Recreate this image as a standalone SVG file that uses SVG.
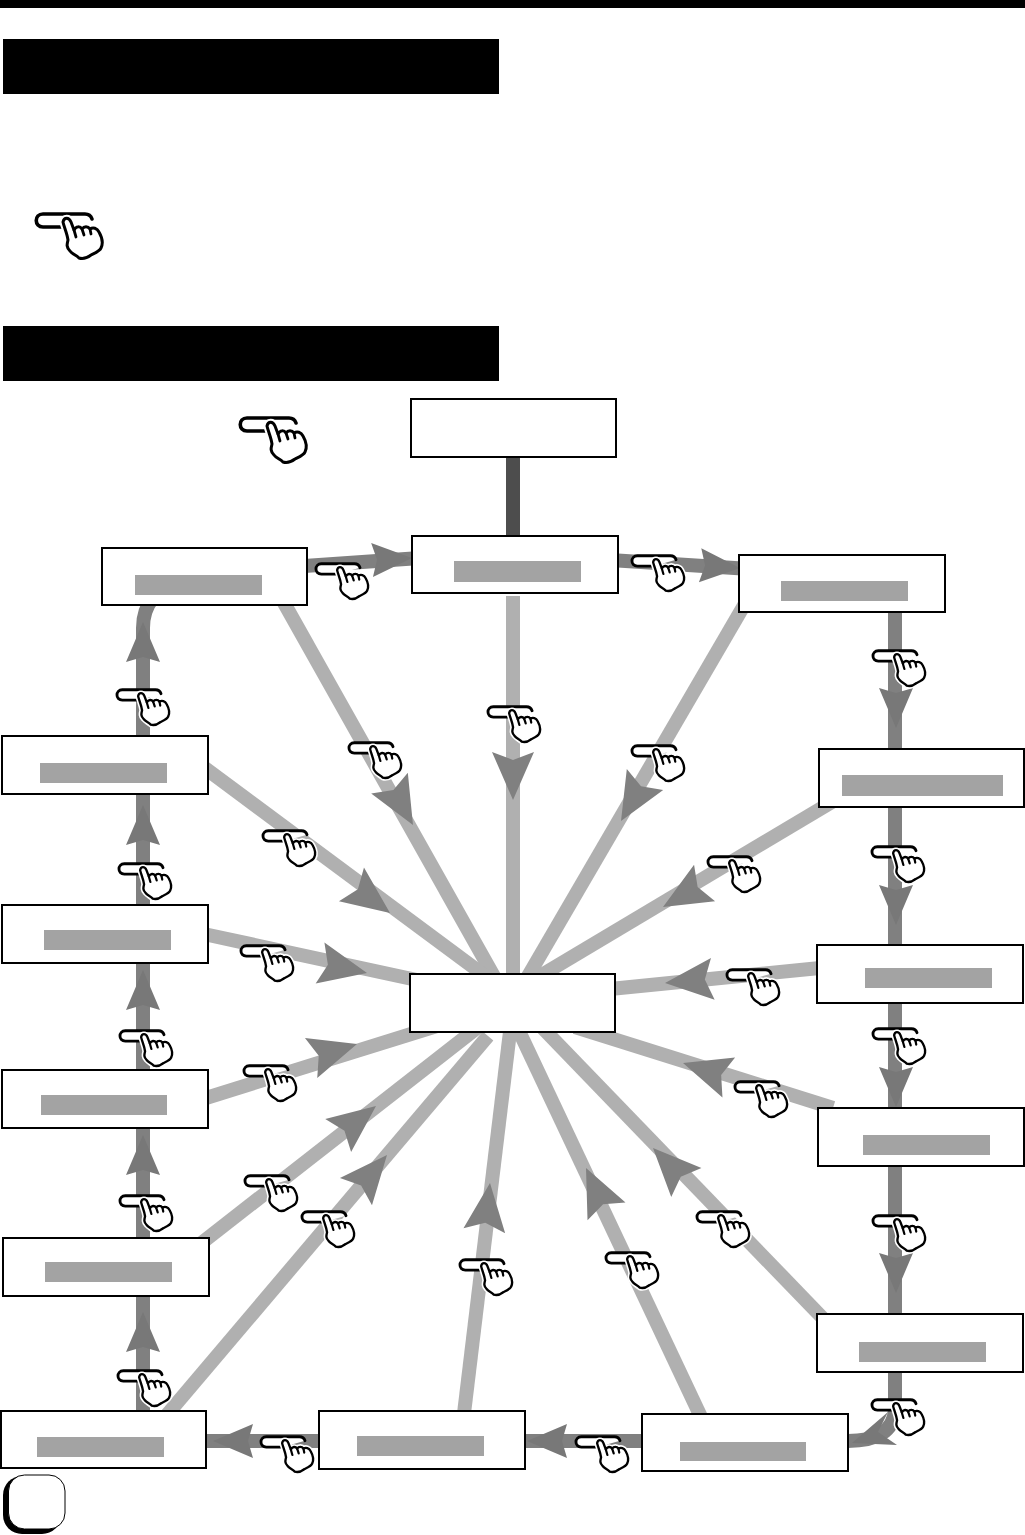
<svg xmlns="http://www.w3.org/2000/svg" width="1025" height="1535" viewBox="0 0 1025 1535">
<style>
.node{fill:#fff;stroke:#000;stroke-width:2}
.bar{fill:#a3a3a3;stroke:none}
.l{fill:none;stroke:#b0b0b0;stroke-width:14}
.d{fill:none;stroke:#808080;stroke-width:14}
.hb{fill:#808080;stroke:none}
.h{fill:#787878;stroke:none}
.pill{fill:#fff;stroke:#000;stroke-width:3.6;stroke-linecap:round;stroke-linejoin:round}
.hs{fill:#fff;stroke:#000;stroke-width:3;stroke-linejoin:round;stroke-linecap:round}
.halo{fill:#fff;stroke:#fff;stroke-width:7;stroke-linejoin:round}
.thin{fill:none;stroke:#000;stroke-width:2.8;stroke-linecap:round;stroke-linejoin:round}
</style>
<defs>
<polygon id="big" class="hb" points="0,0 -48,-21 -40,0 -48,21"/>
<polygon id="small" class="h" points="0,0 -40,-17 -35,0 -40,17"/>
<path id="handshape" d="M28,9 C29,4 34,4 36,9 L39,17 C41,13 45,13 47,16 C49,13 53,13 55,16 C58,14 62,15 64,19 C68,26 68,31 66,35 C65,38 60,40 56,42 C52,45 47,46 44,45 C41,42 37,41 35,38 C31,34 32,31 33,27 C32,20 29,14 28,9 Z"/>
<g id="hand">
<path class="pill" d="M29,14 L8,14 C-1,14 -1,1 8,1 L50,1 C54,1 56,3 57,6"/>
<use class="halo" href="#handshape"/>
<use class="hs" href="#handshape"/>
<path class="thin" d="M39,17 L41,24 M47,16 L49,22 M55,16 L56,21"/>
</g>
<use id="h2" href="#hand" transform="scale(.79)"/>
</defs>

<rect id="topbar" x="0" y="0" width="1025" height="8" fill="#000"/>
<rect id="title1" x="3" y="39" width="496" height="55" fill="#000"/>
<rect id="title2" x="3" y="326" width="496" height="55" fill="#000"/>

<g id="connectors">
<path d="M513,457 V536" fill="none" stroke="#4d4d4d" stroke-width="14"/>
<path class="l" d="M270,578 L505,996"/>
<path class="l" d="M513,596 V990"/>
<path class="l" d="M760,578 L520,990"/>
<path class="l" d="M852,790 L530,982"/>
<path class="l" d="M840,966 L600,990"/>
<path class="l" d="M833,1108 L575,1027"/>
<path class="l" d="M840,1336 L530,1015"/>
<path class="l" d="M710,1436 L510,1012"/>
<path class="l" d="M462,1430 L512,1015"/>
<path class="l" d="M160,1423 L488,1036"/>
<path class="l" d="M190,1252 L500,1010"/>
<path class="l" d="M190,1103 L440,1025"/>
<path class="l" d="M190,931 L440,985"/>
<path class="l" d="M190,757 L500,987"/>
<path class="d" d="M290,567 L420,558"/>
<path class="d" d="M610,560 L750,569"/>
<path class="d" d="M895,612 V749"/>
<path class="d" d="M895,807 V945"/>
<path class="d" d="M895,1003 V1108"/>
<path class="d" d="M895,1166 V1314"/>
<path class="d" d="M895,1372 V1410 Q893,1441 848,1441"/>
<path class="d" d="M642,1441 H525"/>
<path class="d" d="M319,1441 H206"/>
<path class="d" d="M143,1411 V1296"/>
<path class="d" d="M143,1238 V1128"/>
<path class="d" d="M143,1070 V963"/>
<path class="d" d="M143,905 V794"/>
<path class="d" d="M143,736 V628 Q143,610 153,598"/>
<use href="#big" transform="translate(413,825) rotate(60.7)"/>
<use href="#big" transform="translate(513,800) rotate(90)"/>
<use href="#big" transform="translate(621,821) rotate(120)"/>
<use href="#big" transform="translate(663,907) rotate(150)"/>
<use href="#big" transform="translate(665,983) rotate(175)"/>
<use href="#big" transform="translate(683,1063) rotate(197.5)"/>
<use href="#big" transform="translate(653,1148) rotate(226)"/>
<use href="#big" transform="translate(586,1168) rotate(244.7)"/>
<use href="#big" transform="translate(490,1183) rotate(-83.2)"/>
<use href="#big" transform="translate(387,1155) rotate(-49.7)"/>
<use href="#big" transform="translate(376,1106) rotate(-38)"/>
<use href="#big" transform="translate(357,1044) rotate(-17)"/>
<use href="#big" transform="translate(367,973) rotate(12)"/>
<use href="#big" transform="translate(390,913) rotate(36.6)"/>
<use href="#small" transform="translate(412,558) rotate(-3)"/>
<use href="#small" transform="translate(740,568) rotate(4)"/>
<use href="#small" transform="translate(896,728) rotate(90)"/>
<use href="#small" transform="translate(896,925) rotate(90)"/>
<use href="#small" transform="translate(896,1107) rotate(90)"/>
<use href="#small" transform="translate(896,1293) rotate(90)"/>
<polygon class="h" points="888,1412 852,1443 897,1445 878,1432"/>
<use href="#small" transform="translate(527,1441) rotate(180)"/>
<use href="#small" transform="translate(213,1441) rotate(180)"/>
<use href="#small" transform="translate(143,1312) rotate(-90)"/>
<use href="#small" transform="translate(143,1135) rotate(-90)"/>
<use href="#small" transform="translate(143,970) rotate(-90)"/>
<use href="#small" transform="translate(143,805) rotate(-90)"/>
<use href="#small" transform="translate(143,622) rotate(-90)"/>
</g>

<g id="n-top"><rect class="node" x="411" y="399" width="205" height="58"/></g>
<g id="n-b2"><rect class="node" x="412" y="536" width="206" height="57"/><rect class="bar" x="454" y="561" width="127" height="21"/></g>
<g id="n-lt"><rect class="node" x="102" y="548" width="205" height="57"/><rect class="bar" x="135" y="575" width="127" height="20"/></g>
<g id="n-rt"><rect class="node" x="739" y="555" width="206" height="57"/><rect class="bar" x="781" y="581" width="127" height="20"/></g>
<g id="n-r2"><rect class="node" x="819" y="749" width="205" height="58"/><rect class="bar" x="842" y="775" width="161" height="21"/></g>
<g id="n-r3"><rect class="node" x="817" y="945" width="206" height="58"/><rect class="bar" x="865" y="968" width="127" height="20"/></g>
<g id="n-r4"><rect class="node" x="818" y="1108" width="206" height="58"/><rect class="bar" x="863" y="1135" width="127" height="20"/></g>
<g id="n-r5"><rect class="node" x="817" y="1314" width="206" height="58"/><rect class="bar" x="859" y="1342" width="127" height="20"/></g>
<g id="n-br"><rect class="node" x="642" y="1414" width="206" height="57"/><rect class="bar" x="680" y="1442" width="126" height="19"/></g>
<g id="n-bm"><rect class="node" x="319" y="1411" width="206" height="58"/><rect class="bar" x="357" y="1436" width="127" height="20"/></g>
<g id="n-bl"><rect class="node" x="1" y="1411" width="205" height="57"/><rect class="bar" x="37" y="1437" width="127" height="20"/></g>
<g id="n-l5"><rect class="node" x="3" y="1238" width="206" height="58"/><rect class="bar" x="45" y="1262" width="127" height="20"/></g>
<g id="n-l4"><rect class="node" x="2" y="1070" width="206" height="58"/><rect class="bar" x="41" y="1095" width="126" height="20"/></g>
<g id="n-l3"><rect class="node" x="2" y="905" width="206" height="58"/><rect class="bar" x="44" y="930" width="127" height="20"/></g>
<g id="n-l2"><rect class="node" x="2" y="736" width="206" height="58"/><rect class="bar" x="40" y="763" width="127" height="20"/></g>
<g id="n-center"><rect class="node" x="410" y="974" width="205" height="58"/></g>

<g id="page-tab">
<rect x="3" y="1476" width="58" height="58" rx="19" fill="#000"/>
<rect x="8.500" y="1475" width="56.500" height="54" rx="16" fill="#fff" stroke="#000" stroke-width="1"/>
</g>

<g id="hands">
<use href="#hand" x="35" y="213"/>
<use href="#hand" x="239" y="417"/>
<use href="#h2" transform="translate(315,563)"/>
<use href="#h2" transform="translate(631,555)"/>
<use href="#h2" transform="translate(872,650)"/>
<use href="#h2" transform="translate(871,846)"/>
<use href="#h2" transform="translate(872,1028)"/>
<use href="#h2" transform="translate(872,1215)"/>
<use href="#h2" transform="translate(871,1399)"/>
<use href="#h2" transform="translate(726,969)"/>
<use href="#h2" transform="translate(734,1081)"/>
<use href="#h2" transform="translate(696,1211)"/>
<use href="#h2" transform="translate(605,1252)"/>
<use href="#h2" transform="translate(459,1259)"/>
<use href="#h2" transform="translate(301,1211)"/>
<use href="#h2" transform="translate(244,1175)"/>
<use href="#h2" transform="translate(243,1065)"/>
<use href="#h2" transform="translate(240,945)"/>
<use href="#h2" transform="translate(262,830)"/>
<use href="#h2" transform="translate(348,742)"/>
<use href="#h2" transform="translate(487,706)"/>
<use href="#h2" transform="translate(631,745)"/>
<use href="#h2" transform="translate(707,856)"/>
<use href="#h2" transform="translate(116,689)"/>
<use href="#h2" transform="translate(118,863)"/>
<use href="#h2" transform="translate(119,1030)"/>
<use href="#h2" transform="translate(119,1195)"/>
<use href="#h2" transform="translate(117,1370)"/>
<use href="#h2" transform="translate(260,1436)"/>
<use href="#h2" transform="translate(575,1436)"/>
</g>
</svg>
